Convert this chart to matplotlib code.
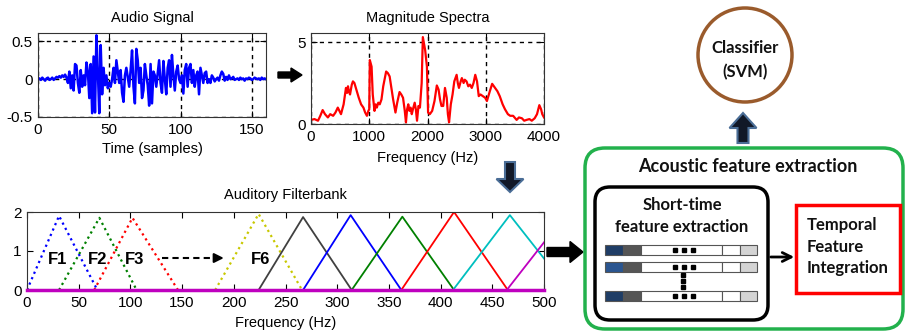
import matplotlib
matplotlib.use("Agg")
import matplotlib.pyplot as plt
from matplotlib.patches import FancyBboxPatch, Rectangle, Circle

plt.rcParams['font.family'] = 'Liberation Sans'
plt.rcParams['axes.unicode_minus'] = False

# audio signal, one value per sample (0..160)
audio = [0, 0.01, -0.01, 0.02, 0, -0.02, 0.01, 0.02, -0.01, 0, 0.02, -0.01, 0.01, 0.03, 0.02, 0.04, 0.02, 0.05, 0.03, 0.06,
         0.02, -0.05, 0.1, -0.12, 0.05, -0.15, 0.2, 0.18, -0.05, -0.18, 0.12, -0.1, 0.05, -0.08, 0.22, 0.1, -0.25, 0.2, -0.45, 0.3,
         -0.44, 0.58, 0.1, -0.45, 0.45, -0.2, 0.15, -0.08, 0.05, -0.12, -0.05, -0.1, 0.0, 0.15, -0.05, 0.25, 0.1, -0.05, 0.12, -0.18,
         -0.3, 0.05, 0.15, 0.02, -0.1, 0.12, 0.38, -0.1, -0.32, 0.4, 0.25, -0.05, 0.15, -0.25, -0.15, 0.2, 0.05, -0.08, -0.35, 0.2,
         -0.32, 0.1, 0.05, -0.1, 0.08, 0.25, -0.05, -0.18, 0.24, 0.0, -0.2, 0.15, 0.25, -0.1, 0.32, 0.05, -0.15, 0.1, 0.18, 0.0,
         -0.05, 0.05, -0.19, 0.12, 0.2, -0.1, 0.15, 0.2, -0.05, 0.12, -0.1, 0.05, 0.1, -0.2, 0.15, 0.05, -0.05, 0.08, 0.1, -0.05,
         0.0, -0.05, 0.05, 0.02, -0.03, 0.0, 0.02, -0.02, 0.05, 0.1, 0.07, -0.02, 0.03, -0.01, 0.05, 0.0, 0.01, 0.03, -0.01, 0.0,
         0.01, -0.01, 0.02, 0.0, 0.01, -0.02, 0.01, 0.0, 0.02, 0.01, -0.01, 0.0, 0.02, 0.01, 0.0, 0.01, -0.01, 0.02, 0.0, 0.01, 0.0]

# magnitude spectrum
spec_freq = [0, 60, 120, 160, 200, 240, 290, 330, 380, 420, 460, 515, 560, 600, 620, 635, 650, 670, 700, 720, 745, 770,
             820, 860, 900, 930, 960, 985, 1000, 1010, 1040, 1060, 1090, 1110, 1130, 1155, 1180, 1210, 1240, 1290, 1320,
             1350, 1380, 1410, 1450, 1480, 1520, 1550, 1580, 1610, 1630, 1650, 1670, 1690, 1710, 1730, 1750, 1780, 1800,
             1820, 1845, 1870, 1900, 1920, 1960, 1990, 2010, 2040, 2080, 2120, 2160, 2190, 2215, 2240, 2270, 2300, 2330,
             2350, 2370, 2400, 2430, 2460, 2500, 2520, 2540, 2570, 2590, 2620, 2640, 2670, 2700, 2730, 2760, 2790, 2820,
             2850, 2880, 2910, 2950, 2990, 3020, 3070, 3110, 3160, 3200, 3240, 3290, 3330, 3380, 3420, 3470, 3530, 3570,
             3620, 3660, 3700, 3750, 3790, 3840, 3880, 3920, 3950, 3970, 4000]
spec_mag = [0.25, 0.3, 0.2, 0.5, 0.85, 0.6, 0.4, 0.6, 0.5, 0.7, 1.0, 0.6, 1.2, 2.2, 1.9, 2.3, 2.0, 1.8, 2.4, 2.6, 2.5, 2.2,
            1.6, 1.2, 1.0, 0.7, 0.5, 0.8, 0.9, 3.9, 3.5, 1.8, 0.8, 1.2, 1.0, 1.3, 1.2, 1.5, 2.3, 3.2, 3.1,
            2.9, 2.2, 1.5, 0.7, 1.3, 1.95, 1.8, 1.6, 0.8, 0.1, 0.9, 1.2, 0.8, 1.0, 0.6, 0.9, 1.3, 0.9,
            0.2, 1.1, 1.0, 2.5, 5.3, 4.5, 3.5, 0.7, 0.6, 0.8, 1.4, 2.35, 2.1, 1.5, 1.1, 1.1, 2.2, 1.6,
            0.6, 0.1, 1.2, 1.8, 2.6, 3.0, 2.5, 2.2, 2.6, 2.8, 2.5, 2.7, 2.6, 2.3, 2.4, 2.2, 2.5, 3.0,
            2.6, 1.7, 1.8, 1.7, 1.6, 1.4, 2.0, 2.45, 2.2, 2.0, 1.7, 1.2, 0.9, 0.6, 0.5, 0.5, 0.25, 0.4,
            0.35, 0.2, 0.25, 0.3, 0.2, 0.35, 0.6, 1.15, 0.9, 0.6, 0.4]

# auditory filterbank triangles: start, peak, end (Hz) and height
fb_start = [0, 31, 65, 182, 224, 267, 314, 362, 412, 464]
fb_peak = [31, 70, 102, 224, 267, 313, 363, 413, 467, 520]
fb_end = [68, 106, 146, 266, 314, 362, 413, 465, 524, 576]
fb_height = [1.9, 1.85, 1.85, 1.95, 1.87, 1.92, 1.88, 2.0, 1.92, 1.9]
fb_colors = ['b', 'g', 'r', '#c8c800', '#404040', 'b', 'g', 'r', 'c', 'm']
fb_dotted = [True, True, True, True, False, False, False, False, False, False]
fb_names = ['F1', 'F2', 'F3', 'F6']
fb_name_x = [30, 68, 104, 226]

fig = plt.figure(figsize=(9.06, 3.33), dpi=100)


def matlab_axes(ax):
    ax.tick_params(direction='in', top=True, right=True, length=4, labelsize=11, pad=4)
    for s in ax.spines.values():
        s.set_color('#333333')


# Audio signal
ax1 = fig.add_axes([38/906, 1-117/333, 228/906, 84/333])
ax1.plot(range(len(audio)), audio, color='b', lw=1.8)
ax1.set_xlim(0, 160)
ax1.set_ylim(-0.5, 0.61)
ax1.set_xticks([0, 50, 100, 150])
ax1.set_yticks([-0.5, 0, 0.5], ['-0.5', '0', '0.5'])
ax1.grid(True, color='k', ls=(0, (3, 3)), lw=1)
matlab_axes(ax1)
ax1.set_title('Audio Signal', fontsize=10.5, pad=8)
ax1.set_xlabel('Time (samples)', fontsize=10.5, labelpad=4)

# Magnitude spectrum
ax2 = fig.add_axes([311/906, 1-124/333, 233/906, 91/333])
ax2.plot(spec_freq, spec_mag, color='r', lw=1.6)
ax2.set_xlim(0, 4000)
ax2.set_ylim(0, 5.55)
ax2.set_xticks([0, 1000, 2000, 3000, 4000])
ax2.set_yticks([0, 5])
ax2.grid(True, color='k', ls=(0, (3, 3)), lw=1)
matlab_axes(ax2)
ax2.set_title('Magnitude Spectra', fontsize=10.5, pad=8)
ax2.set_xlabel('Frequency (Hz)', fontsize=10.5, labelpad=5)

# Auditory filterbank
ax3 = fig.add_axes([27/906, 1-290/333, 517/906, 78/333])
for s, p, e, h, c, d in zip(fb_start, fb_peak, fb_end, fb_height, fb_colors, fb_dotted):
    ax3.plot([s, p, e], [0, h, 0], color=c, lw=1.6 if d else 1.3, ls=':' if d else '-')
ax3.plot([0, 500], [0, 0], color='m', lw=2.5, zorder=5, clip_on=False)
for name, x in zip(fb_names, fb_name_x):
    ax3.text(x, 0.77, name, fontsize=12, fontweight='bold', ha='center', va='center')
ax3.plot([131, 183], [0.82, 0.82], color='k', lw=1.5, ls=(0, (3, 2)))
ax3.annotate('', xy=(193, 0.82), xytext=(180, 0.82),
             arrowprops=dict(arrowstyle='-|>', color='k', lw=1.5, mutation_scale=14))
ax3.set_xlim(0, 500)
ax3.set_ylim(0, 2)
ax3.set_xticks(range(0, 501, 50))
ax3.set_yticks([0, 1, 2])
matlab_axes(ax3)
ax3.set_title('Auditory Filterbank', fontsize=10.5, pad=9)
ax3.set_xlabel('Frequency (Hz)', fontsize=10.5, labelpad=5)

# Block diagram overlay in pixel coordinates
ov = fig.add_axes([0, 0, 1, 1], facecolor='none')
ov.set_xlim(0, 906)
ov.set_ylim(333, 0)
ov.axis('off')

ov.arrow(278, 75, 24, 0, width=6, head_width=14, head_length=11,
         length_includes_head=True, fc='k', ec='k')
ov.arrow(510, 162, 0, 30, width=10, head_width=27, head_length=13,
         length_includes_head=True, fc='#111827', ec='#4a6d96', lw=1.5)
ov.arrow(547, 252, 36, 0, width=9, head_width=21, head_length=13,
         length_includes_head=True, fc='k', ec='k')
ov.arrow(743, 143, 0, -30, width=11, head_width=27, head_length=15,
         length_includes_head=True, fc='#111827', ec='#4a6d96', lw=1.5)

bold = dict(family='Lato', fontweight='bold', color='#111111')

ov.add_patch(Circle((745, 55), 47, fill=False, ec='#9a5b2c', lw=2.5))
ov.text(745, 48, 'Classifier', fontsize=12, ha='center', va='center', **bold)
ov.text(745, 72, '(SVM)', fontsize=12, ha='center', va='center', **bold)

ov.add_patch(FancyBboxPatch((585, 148), 318, 181, boxstyle='round,pad=0,rounding_size=20',
                            fill=False, ec='#22b14c', lw=2.5))
ov.text(748, 167, 'Acoustic feature extraction', fontsize=13, ha='center', va='center', **bold)

ov.add_patch(FancyBboxPatch((595, 187), 173, 133, boxstyle='round,pad=0,rounding_size=15',
                            fill=False, ec='k', lw=2.5))
ov.text(682, 205, 'Short-time', fontsize=12, ha='center', va='center', **bold)
ov.text(682, 227, 'feature extraction', fontsize=12, ha='center', va='center', **bold)

# feature vectors
row_tops = [245, 262, 291]
lead_colors = ['#1f3d66', '#2a5590', '#1f3d66']
seg_x = [605, 623, 641, 722, 740]
seg_w = [18, 18, 81, 18, 17]
for top, lead in zip(row_tops, lead_colors):
    for x, w, c in zip(seg_x, seg_w, [lead, '#555555', 'white', 'white', '#d4d4d4']):
        ov.add_patch(Rectangle((x, top), w, 10, fc=c, ec='#555555', lw=0.8))
    ov.plot([675, 684, 693], [top + 5] * 3, 's', color='k', ms=2.5)
ov.plot([683, 683, 683], [275, 281, 287], 's', color='k', ms=2.5)

ov.annotate('', xy=(797, 257), xytext=(768, 257),
            arrowprops=dict(arrowstyle='->', color='k', lw=2, mutation_scale=16))

ov.add_patch(Rectangle((796, 205), 104, 88, fill=False, ec='#ff0000', lw=2.5))
for txt, y in zip(['Temporal', 'Feature', 'Integration'], [225, 247, 268]):
    ov.text(807, y, txt, fontsize=12, ha='left', va='center', **bold)

fig.savefig('out.png', dpi=100)
